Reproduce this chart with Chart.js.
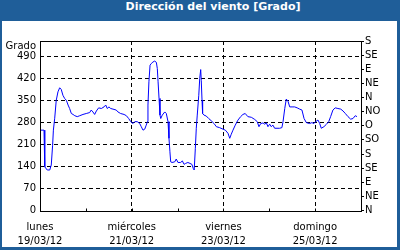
<!DOCTYPE html>
<html>
<head>
<meta charset="utf-8">
<script src="https://cdn.jsdelivr.net/npm/chart.js@4.4.0/dist/chart.umd.min.js"></script>
<style>
  html, body { margin: 0; padding: 0; }
  body { width: 400px; height: 250px; background: #1f5e99; position: relative; overflow: hidden; }
  #panel { position: absolute; left: 2px; top: 21px; width: 395px; height: 226px; background: #fff; }
  #titulo { position: absolute; left: 0; top: 0; width: 426px; height: 21px; line-height: 21px;
            text-align: center; color: #fff; font: bold 11px "DejaVu Sans", sans-serif; }
  canvas { position: absolute; left: 0; top: 0; }
</style>
</head>
<body>
<div id="panel"></div>
<div id="titulo">Dirección del viento [Grado]</div>
<canvas id="grafico" width="400" height="250" style="width:400px;height:250px"></canvas>
<script>
// horas desde lunes 19/03/12 00:00
const horas = [0, 2.1, 2.5, 3.8, 5.1, 5.9, 6.6, 7.0, 7.7, 8.5,
  9.4, 10.3, 11.1, 12.0, 12.9, 13.8, 14.7, 15.5, 16.4, 17.3,
  18.2, 19.5, 20.8, 22.5, 24.2, 26.0, 26.8, 27.7, 28.6, 29.5,
  30.7, 32.1, 33.5, 34.4, 35.2, 36.1, 37.0, 38.2, 39.9, 40.8,
  42.2, 44.0, 45.2, 46.4, 47.5, 48.7, 49.6, 50.9, 52.2, 53.0,
  53.9, 54.8, 55.6, 56.2, 56.5, 57.0, 57.6, 58.2, 59.1, 60.0,
  60.9, 61.4, 61.8, 62.3, 62.8, 63.2, 64.0, 65.3, 66.1, 67.0,
  67.5, 68.0, 68.4, 69.1, 70.5, 71.3, 72.2, 73.6, 74.5, 75.4,
  76.2, 77.4, 78.5, 79.5, 80.2, 80.7, 81.3, 81.8, 82.3, 83.1,
  83.6, 84.1, 84.4, 84.8, 85.1, 85.8, 87.0, 88.3, 89.6, 91.1,
  92.3, 94.0, 95.8, 97.0, 98.4, 99.3, 100.1, 101.0, 102.2, 103.6,
  105.0, 106.2, 107.4, 108.8, 110.6, 112.4, 113.7, 114.6, 115.5, 116.7,
  117.6, 118.5, 119.3, 120.2, 121.0, 121.9, 122.8, 125.4, 126.6, 127.2,
  128.1, 128.9, 129.8, 130.7, 131.9, 133.3, 134.6, 135.9, 137.1, 138.2,
  139.4, 141.1, 142.3, 143.4, 144.6, 145.5, 146.4, 147.2, 148.6, 149.8,
  151.1, 152.1, 153.3, 154.5, 155.9, 157.4, 158.6, 159.8, 161.2, 162.6,
  163.8, 165.0, 165.9];

const direccion = [256, 256, 139, 129, 129, 145, 208, 256, 294, 351,
  378, 391, 386, 367, 357, 351, 336, 325, 309, 306,
  302, 299, 302, 306, 309, 312, 320, 314, 306, 317,
  327, 325, 330, 336, 325, 330, 325, 323, 320, 314,
  309, 306, 302, 293, 283, 277, 283, 283, 277, 267,
  256, 259, 272, 283, 336, 410, 463, 468, 473, 476,
  472, 452, 410, 357, 304, 293, 304, 314, 309, 283,
  230, 187, 155, 153, 155, 164, 153, 153, 158, 147,
  150, 153, 150, 147, 134, 129, 198, 262, 304, 367,
  421, 449, 415, 351, 309, 304, 301, 293, 286, 277,
  267, 264, 259, 256, 246, 230, 243, 256, 272, 288,
  299, 306, 309, 299, 297, 290, 283, 267, 277, 279,
  275, 279, 267, 275, 267, 272, 262, 262, 264, 283,
  325, 355, 348, 330, 330, 330, 327, 323, 320, 293,
  280, 277, 280, 277, 285, 288, 277, 262, 267, 274,
  283, 299, 320, 327, 325, 323, 317, 309, 299, 291,
  293, 302, 299];

const dias = ['lunes', 'martes', 'miércoles', 'jueves', 'viernes', 'sábado', 'domingo', 'lunes'];
const fechas = ['19/03/12', '20/03/12', '21/03/12', '22/03/12', '23/03/12', '24/03/12', '25/03/12', '26/03/12'];
const gradosTicks = [0, 70, 140, 210, 280, 350, 420, 490];
const rumbos = ['N', 'NE', 'E', 'SE', 'S', 'SO', 'O', 'NO', 'N', 'NE', 'E', 'SE', 'S'];

const fuente = { family: 'DejaVu Sans', size: 10 };
const nada = 'rgba(0,0,0,0)';

// marco, marcas interiores del eje x y rótulo "Grado"
const extras = {
  id: 'extras',
  afterDraw(chart) {
    const { ctx, chartArea: a, scales } = chart;
    ctx.save();
    ctx.setLineDash([]);
    ctx.strokeStyle = '#000';
    ctx.lineWidth = 1;
    const l = Math.round(a.left) + 0.5, r = Math.round(a.right) + 0.5;
    const t = Math.round(a.top) + 0.5, b = Math.round(a.bottom) + 0.5;
    ctx.strokeRect(l, t, r - l, b - t);
    ctx.beginPath();
    for (let i = 1; i < dias.length - 1; i++) {
      const x = Math.round(scales.x.getPixelForValue(i * 24)) + 0.5;
      ctx.moveTo(x, b);
      ctx.lineTo(x, b - 3);
    }
    ctx.stroke();
    ctx.fillStyle = '#000';
    ctx.font = '10px "DejaVu Sans"';
    ctx.textAlign = 'right';
    ctx.textBaseline = 'middle';
    ctx.fillText('Grado', a.left - 4, 46);
    ctx.restore();
  }
};

new Chart(document.getElementById('grafico'), {
  type: 'line',
  data: {
    datasets: [{
      data: horas.map((h, i) => ({ x: h, y: direccion[i] })),
      borderColor: '#0000ff',
      borderWidth: 1,
      pointRadius: 0,
      tension: 0,
      fill: false,
      yAxisID: 'y'
    }]
  },
  options: {
    responsive: false,
    animation: false,
    layout: { padding: { top: 41, left: 0, right: 0, bottom: 0 } },
    plugins: { legend: { display: false }, tooltip: { enabled: false } },
    scales: {
      x: {
        type: 'linear', min: 0, max: 168,
        afterBuildTicks: s => { s.ticks = dias.map((d, i) => ({ value: i * 24 })); },
        afterFit: s => { s.height = 39.5; },
        grid: {
          color: c => (c.tick && c.tick.value % 48 === 0 && c.tick.value > 0 && c.tick.value < 168) ? '#000' : nada,
          drawTicks: false
        },
        border: { display: false, dash: [4, 3] },
        ticks: {
          autoSkip: false, maxRotation: 0, padding: 10, color: '#000',
          font: { ...fuente, lineHeight: 1.4 },
          callback: v => (v % 48 === 0 && v < 168) ? [dias[v / 24], fechas[v / 24]] : ''
        }
      },
      y: {
        position: 'left', min: 0, max: 540,
        afterBuildTicks: s => { s.ticks = gradosTicks.map(v => ({ value: v })); },
        afterFit: s => { s.width = 40; },
        grid: { color: c => (c.tick && c.tick.value > 0) ? '#000' : nada, drawTicks: false },
        border: { display: false, dash: [4, 3] },
        ticks: { padding: 4, color: '#000', font: fuente }
      },
      rumbo: {
        position: 'right', min: 0, max: 540,
        afterBuildTicks: s => { s.ticks = rumbos.map((r, i) => ({ value: i * 45 })); },
        afterFit: s => { s.width = 39; },
        grid: { drawOnChartArea: false, drawTicks: true, tickLength: 3, color: '#000' },
        border: { display: false },
        ticks: { padding: 1, color: '#000', font: fuente, autoSkip: false,
                 callback: (v, i) => rumbos[i] }
      }
    }
  },
  plugins: [extras]
});
</script>
</body>
</html>
